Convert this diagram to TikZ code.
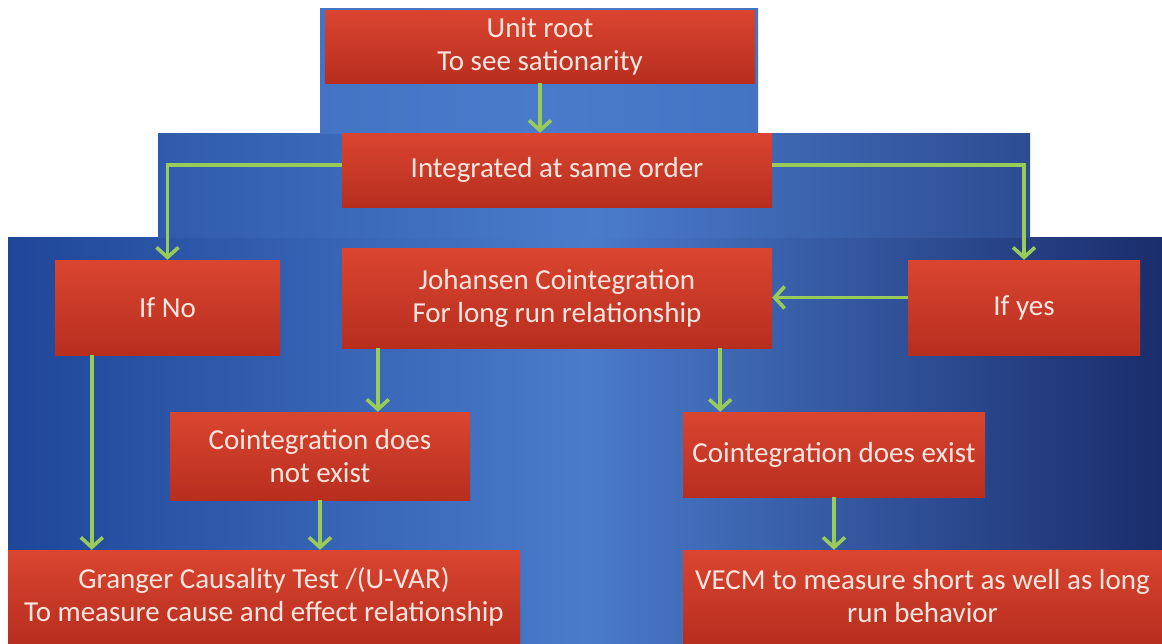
\documentclass[tikz,border=0pt]{standalone}
\usepackage{fontspec}
\setmainfont{Carlito}
\usepackage{tikz}
\usetikzlibrary{arrows.meta,positioning}

\definecolor{bgdark}{HTML}{1F4699}
\definecolor{bgmid}{HTML}{4A7BCB}
\definecolor{bgright}{HTML}{1A2D6C}
\definecolor{redtop}{HTML}{DA4530}
\definecolor{redbot}{HTML}{B72E1F}
\definecolor{boxtext}{HTML}{FAE6DE}
\definecolor{flowgreen}{HTML}{98CC5A}

\begin{document}
\begin{tikzpicture}[x=1pt,y=-1pt,
    box/.style={rectangle,top color=redtop,bottom color=redbot,
        text=boxtext,align=center,inner sep=0pt,
        font=\fontsize{29}{33}\selectfont},
    flow/.style={draw=flowgreen,line width=3.6pt,
        -{Straight Barb[length=10pt,width=22pt,line width=3.6pt]}}]
    \useasboundingbox (0,0) rectangle (1162,643);
    \fill[white] (0,0) rectangle (1162,643);
    \fill[left color=bgdark,right color=bgright,middle color=bgmid]
        (8,237) rectangle (1162,643);
    \fill[left color=bgdark!60!bgmid,right color=bgright!60!bgmid,middle color=bgmid]
        (158,133) rectangle (1030,237);
    \fill[left color=bgmid!85!bgdark,right color=bgmid!85!bgdark,middle color=bgmid]
        (320,8) rectangle (758,133);

    \node[box,minimum width=430pt,minimum height=73pt] (unitroot) at (540,46.5)
        {Unit root\\To see sationarity};
    \node[box,minimum width=430pt,minimum height=74pt] (integ) at (557,170)
        {Integrated at same order};
    \node[box,minimum width=225pt,minimum height=95pt] (ifno) at (167.5,307.5)
        {If No};
    \node[box,minimum width=430pt,minimum height=100pt] (johansen) at (557,298)
        {Johansen Cointegration\\For long run relationship};
    \node[box,minimum width=232pt,minimum height=95pt] (ifyes) at (1024,307.5)
        {If yes};
    \node[box,minimum width=300pt,minimum height=88pt] (noexist) at (320,456)
        {Cointegration does\\not exist};
    \node[box,minimum width=302pt,minimum height=85pt] (exist) at (834,454.5)
        {Cointegration does exist};
    \node[box,minimum width=512pt,minimum height=93pt] (granger) at (264,596.5)
        {Granger Causality Test /(U-VAR)\\To measure cause and effect relationship};
    \node[box,minimum width=479pt,minimum height=93pt] (vecm) at (922.5,596.5)
        {VECM to measure short as well as long\\run behavior};

    \draw[flow] (unitroot.south) -- (unitroot.south |- integ.north);
    \draw[flow] ([yshift=5pt]integ.west) -| (ifno.north);
    \draw[flow] ([yshift=5pt]integ.east) -| (ifyes.north);
    \draw[flow] ([yshift=10pt]ifyes.west) -- ([yshift=10pt]ifyes.west -| johansen.east);
    \draw[flow] ([xshift=36pt]johansen.south west)
        -- ([xshift=36pt]johansen.south west |- noexist.north);
    \draw[flow] ([xshift=-52pt]johansen.south east)
        -- ([xshift=-52pt]johansen.south east |- exist.north);
    \draw[flow] (noexist.south) -- (noexist.south |- granger.north);
    \draw[flow] (exist.south) -- (exist.south |- vecm.north);
    \draw[flow] ([xshift=37pt]ifno.south west)
        -- ([xshift=37pt]ifno.south west |- granger.north);
\end{tikzpicture}
\end{document}
